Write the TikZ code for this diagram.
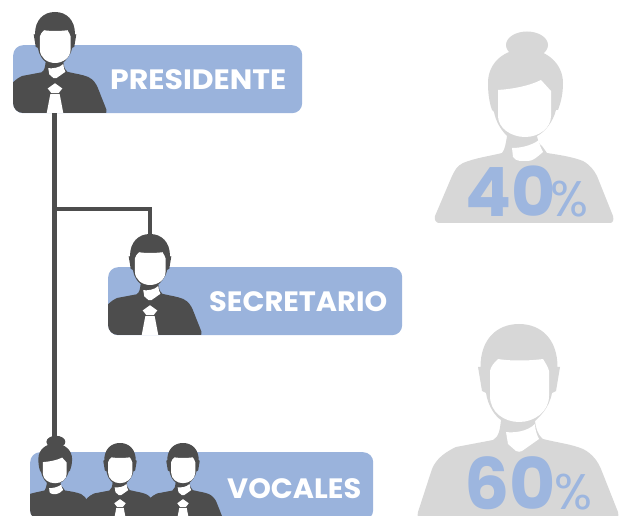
\documentclass[tikz,border=0pt]{standalone}
\usepackage{fontspec}
\setmainfont{Poppins}
\definecolor{dark}{HTML}{4D4D4D}
\definecolor{bluebox}{HTML}{9AB3DC}
\definecolor{bluetxt}{HTML}{9DB6DF}
\definecolor{lightg}{HTML}{D7D7D7}
\newcommand\manshape[1]{%
  \fill[#1] (-41,43) -- (-38.5,43) .. controls (-38.5,15) and (-22,0) .. (0,0) .. controls (22,0) and (38.5,15) .. (38.5,43) -- (41,43) -- (37,67) -- (33,69) .. controls (30,85) and (20,93) .. (16,97) .. controls (17,104) and (18,110) .. (24,115) .. controls (40,119) and (52,120) .. (64,125) .. controls (74,130) and (79,138) .. (82,145) -- (99,188) .. controls (100,192) and (99,195) .. (96,195) -- (-98,195) .. controls (-101,195) and (-102,192) .. (-101,188) -- (-88,148) .. controls (-85,138) and (-78,130) .. (-63,123) -- (-26,116) .. controls (-20,113) and (-19,105) .. (-18,96) .. controls (-24,92) and (-31,82) .. (-33,69) -- (-37,67) -- cycle;
  \fill[white] (-21,35) .. controls (-10,37) and (10,37) .. (24,35) .. controls (27,40) and (29,43) .. (30,47) -- (30,72) .. controls (30,88) and (15,98) .. (0,98) .. controls (-15,98) and (-29,88) .. (-29,72) -- (-29,47) .. controls (-28,42) and (-25,39) .. (-21,35) -- cycle;
  \fill[white] (-13,108) .. controls (-6,109) and (8,108) .. (16,100) .. controls (16,106) and (18,111) .. (20,115) -- (3,127) .. controls (1,128) and (-1,128) .. (-3,127) -- (-11,120) -- cycle;
}
\newcommand\tieshape{%
  \fill[white] (0,137) -- (14,147) -- (7,156) -- (-7,156) -- (-14,147) -- cycle;
  \fill[white] (-9,158) -- (9,158) -- (17,200) -- (-17,200) -- cycle;
}
\newcommand\womanshape[1]{%
  \fill[#1] (2,13) ellipse [x radius=21,y radius=13.5];
  \fill[#1] (-37,51) .. controls (-37,30) and (-20,17) .. (0,17) .. controls (22,17) and (38,32) .. (38,51) .. controls (38,62) and (36,70) .. (33,78) -- (31,78) .. controls (28,90) and (20,100) .. (12,104) .. controls (13,110) and (15,113) .. (17,114) -- (22,121) .. controls (35,123) and (48,125) .. (58,129) .. controls (65,133) and (69,138) .. (72,144) -- (88,184) .. controls (89,188) and (88,191) .. (85,191) -- (-86,191) .. controls (-89,191) and (-91,188) .. (-90,184) -- (-73,144) .. controls (-70,138) and (-68,134) .. (-62,131) .. controls (-50,126) and (-35,124) .. (-23,121) .. controls (-20,118) and (-19,110) .. (-18,104) .. controls (-24,98) and (-29,90) .. (-31,80) -- (-33,78) .. controls (-36,70) and (-37,60) .. (-37,51) -- cycle;
  \fill[white] (-27,58) .. controls (-12,57) and (4,54) .. (16,48) -- (26,59) -- (26,84) .. controls (26,96) and (14,105) .. (0,105) .. controls (-14,105) and (-27,96) .. (-27,84) -- cycle;
  \fill[white] (-13,116) .. controls (-5,116) and (6,114) .. (14,108) .. controls (14,112) and (16,116) .. (18,120) .. controls (12,125) and (8,129) .. (3,129) -- (-5,129) .. controls (-9,128) and (-11,127) .. (-12,125) -- cycle;
}
\tikzset{
  band/.style={fill=bluebox,rounded corners=10pt,inner sep=0pt,anchor=north west,draw=none},
  lab/.style={text=white,font=\bfseries\fontsize{28}{28}\selectfont,inner sep=0pt,anchor=base west},
  pct/.style={text=bluetxt,font=\bfseries\fontsize{#1}{#1}\selectfont,inner sep=0pt,anchor=base west},
  pcs/.style={text=bluetxt,font=\fontsize{50}{50}\selectfont,inner sep=0pt,anchor=base west},
  wire/.style={draw=dark,line width=4.6pt,line cap=butt,line join=miter},
}
\begin{document}
\begin{tikzpicture}[x=1pt,y=-1pt]
\useasboundingbox (0,0) rectangle (625,516);
\clip (0,0) rectangle (625,516);
% boxes
\node[band,minimum width=289pt,minimum height=68pt] (bp) at (13,45) {};
\node[band,minimum width=294pt,minimum height=68pt] (bs) at (108,267) {};
\node[band,minimum width=343pt,minimum height=68pt] (bv) at (30,452) {};
% connectors
\coordinate (topv) at (54.5,440);
\coordinate (bot) at (54.5,113);
\coordinate (junc) at (54.5,209);
\coordinate (tops) at (150,237);
\draw[wire] (bot) -- (topv);
\draw[wire] (junc) -| (tops);
% president icon
\begin{scope}
\clip[rounded corners=10pt] (13,0) rectangle (302,113);
\begin{scope}[shift={(55,12)},x=0.52pt,y=-0.52pt]\manshape{dark}\tieshape\end{scope}
\end{scope}
% secretary icon
\begin{scope}
\clip[rounded corners=10pt] (108,200) rectangle (402,335);
\begin{scope}[shift={(150,234)},x=0.52pt,y=-0.52pt]\manshape{dark}\tieshape\end{scope}
\end{scope}
% vocales icons
\begin{scope}
\clip[rounded corners=10pt] (30,400) rectangle (373,520);
\begin{scope}[shift={(55,436)},x=0.45pt,y=-0.45pt]\womanshape{dark}\end{scope}
\begin{scope}[shift={(120,443)},x=0.41pt,y=-0.41pt]\manshape{dark}\tieshape\end{scope}
\begin{scope}[shift={(183,443)},x=0.41pt,y=-0.41pt]\manshape{dark}\tieshape\end{scope}
\end{scope}
% labels
\node[lab] (tp) at (110,90) {\scalebox{1.07}[1]{PRESIDENTE}};
\node[lab] (ts) at (209,312) {\scalebox{1.03}[1]{SECRETARIO}};
\node[lab] (tv) at (227,498) {\scalebox{1.03}[1]{VOCALES}};
% grey figures
\begin{scope}[shift={(525,32)},x=1pt,y=-1pt]\womanshape{lightg}\end{scope}
\begin{scope}[shift={(519,324)},x=1pt,y=-1pt]\manshape{lightg}\end{scope}
% percentages
\node[pct=68] (n40) at (465,217) {40};
\node[pcs] (p40) at (550,217) {\%};
\node[pct=71] (n60) at (464,509) {60};
\node[pcs] (p60) at (554,509) {\%};
\end{tikzpicture}
\end{document}
